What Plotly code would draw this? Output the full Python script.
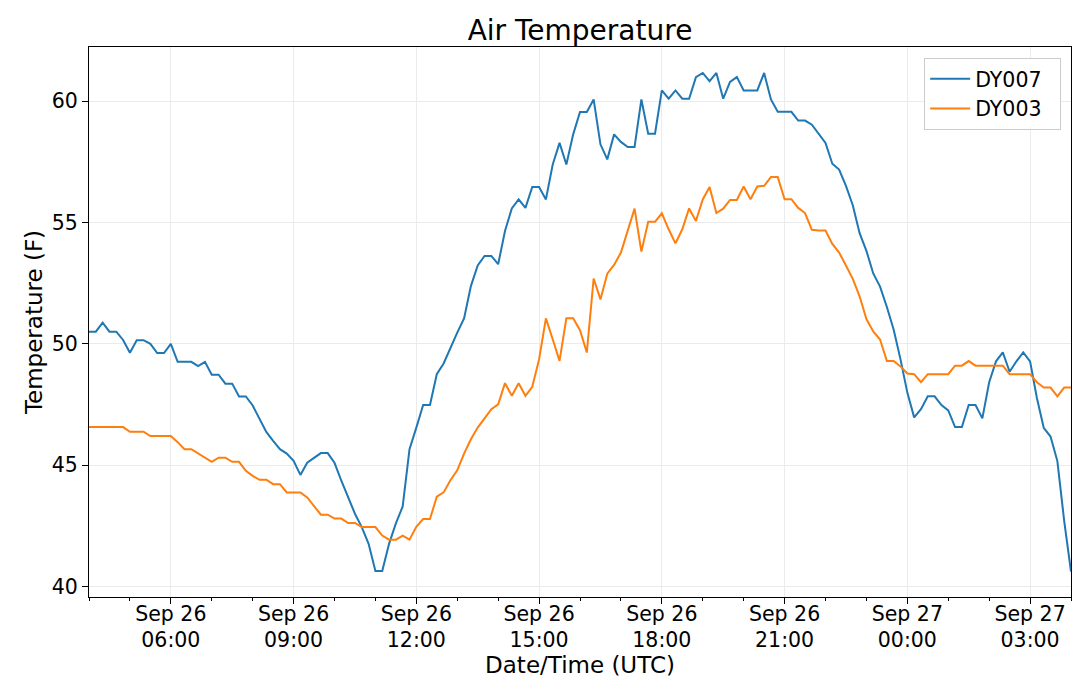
import pandas as pd
import plotly.graph_objects as go

# 10-minute samples from Sep 26 04:00 to Sep 27 04:00 (UTC)
start_time = "2019-09-26 04:00"
n_points = 145
times = pd.date_range(start_time, periods=n_points, freq="10min")

dy007 = [
    50.5, 50.5, 50.87, 50.5, 50.5, 50.16, 49.63, 50.15, 50.15, 50.0, 49.62, 49.62, 50.0,
    49.26, 49.26, 49.26, 49.08, 49.26, 48.73, 48.73, 48.36, 48.36, 47.83, 47.83, 47.46,
    46.93, 46.37, 46.0, 45.66, 45.48, 45.18, 44.6, 45.1, 45.3, 45.5, 45.5, 45.1,
    44.36, 43.67, 43.0, 42.45, 41.76, 40.64, 40.64, 41.76, 42.6, 43.3, 45.66, 46.55,
    47.48, 47.48, 48.75, 49.19, 49.85, 50.46, 51.05, 52.38, 53.23, 53.62, 53.62, 53.28,
    54.65, 55.58, 55.95, 55.6, 56.46, 56.46, 55.95, 57.39, 58.28, 57.39, 58.63, 59.55,
    59.55, 60.07, 58.22, 57.6, 58.63, 58.32, 58.11, 58.11, 60.07, 58.66, 58.66, 60.44,
    60.1, 60.44, 60.1, 60.1, 60.99, 61.16, 60.82, 61.16, 60.1, 60.79, 60.99, 60.44,
    60.44, 60.44, 61.16, 60.07, 59.56, 59.56, 59.56, 59.2, 59.2, 59.03, 58.67, 58.28,
    57.42, 57.18, 56.51, 55.71, 54.56, 53.83, 52.9, 52.36, 51.52, 50.58, 49.36, 47.99,
    46.97, 47.31, 47.84, 47.84, 47.48, 47.26, 46.57, 46.57, 47.48, 47.48, 46.93, 48.42,
    49.28, 49.65, 48.85, 49.28, 49.65, 49.28, 47.77, 46.54, 46.18, 45.17, 42.71, 40.62,
]

dy003 = [
    46.57, 46.57, 46.57, 46.57, 46.57, 46.57, 46.38, 46.38, 46.38, 46.2, 46.2, 46.2, 46.2,
    45.95, 45.66, 45.66, 45.48, 45.31, 45.14, 45.31, 45.31, 45.14, 45.14, 44.77, 44.56,
    44.4, 44.4, 44.22, 44.22, 43.88, 43.88, 43.88, 43.67, 43.33, 42.96, 42.96, 42.8,
    42.8, 42.62, 42.62, 42.45, 42.45, 42.45, 42.1, 41.93, 41.93, 42.1, 41.93, 42.46,
    42.78, 42.78, 43.7, 43.88, 44.38, 44.79, 45.48, 46.07, 46.55, 46.94, 47.31, 47.51,
    48.38, 47.86, 48.38, 47.86, 48.23, 49.36, 51.05, 50.19, 49.3, 51.05, 51.05, 50.56,
    49.64, 52.69, 51.83, 52.89, 53.25, 53.76, 54.65, 55.57, 53.8, 55.03, 55.03, 55.38,
    54.72, 54.14, 54.72, 55.58, 55.06, 55.95, 56.46, 55.39, 55.57, 55.93, 55.93, 56.48,
    55.96, 56.48, 56.51, 56.87, 56.87, 55.96, 55.96, 55.6, 55.39, 54.7, 54.67, 54.67,
    54.12, 53.76, 53.23, 52.68, 51.96, 51.02, 50.51, 50.18, 49.29, 49.29, 49.07, 48.78,
    48.75, 48.42, 48.75, 48.75, 48.75, 48.75, 49.1, 49.1, 49.29, 49.1, 49.1, 49.1,
    49.1, 49.1, 48.75, 48.75, 48.75, 48.75, 48.42, 48.2, 48.2, 47.84, 48.2, 48.2,
]

series_names = ["DY007", "DY003"]
series_colors = ["#1f77b4", "#ff7f0e"]
y_ticks = [40, 45, 50, 55, 60]

FONT = "DejaVu Sans"

# the page body has an 8px margin, so the figure is made 8px smaller
W, H = 1072, 683

fig = go.Figure()
for name, vals, col in zip(series_names, [dy007, dy003], series_colors):
    fig.add_trace(go.Scatter(x=times, y=vals, mode="lines", name=name + "\u00a0\u00a0",
                             line=dict(color=col, width=2)))

fig.update_layout(
    width=W, height=H,
    margin=dict(l=81, r=9, t=39, b=94, autoexpand=False),
    paper_bgcolor="white", plot_bgcolor="white",
    font=dict(family=FONT, color="black", size=20),
    title=dict(text="Air Temperature", x=(81 + (W - 81 - 9) / 2) / W, xanchor="center",
               y=1 - 22 / H, yref="container", yanchor="middle",
               font=dict(size=28, family=FONT, color="black")),
    legend=dict(x=0.99, y=0.98, xanchor="right", yanchor="top",
                bgcolor="white", bordercolor="#cccccc", borderwidth=1,
                font=dict(size=20.5, family=FONT), itemwidth=40),
    showlegend=True,
)

fig.update_xaxes(
    type="date", automargin=False,
    range=[times[0], times[-1]],
    tick0="2019-09-26 00:00", dtick=3 * 3600 * 1000,
    tickformat="%b %d<br>%H:%M",
    ticks="outside", ticklen=6, tickcolor="black", tickwidth=1,
    ticklabelstandoff=-8,
    showline=True, linecolor="black", linewidth=1, mirror=True,
    showgrid=True, gridcolor="#ebebeb", gridwidth=1,
    zeroline=False,
    tickfont=dict(size=20.5, family=FONT),
    minor=dict(dtick=3600 * 1000, tick0="2019-09-26 00:00", ticks="outside",
               ticklen=3, tickcolor="black", showgrid=False),
    title=dict(text="Date/Time (UTC)", font=dict(size=23, family=FONT), standoff=1),
)
fig.update_yaxes(
    automargin=False,
    range=[39.57, 62.23],
    tickvals=y_ticks,
    ticks="outside", ticklen=6, tickcolor="black", tickwidth=1,
    showline=True, linecolor="black", linewidth=1, mirror=True,
    showgrid=True, gridcolor="#ebebeb", gridwidth=1,
    zeroline=False,
    tickfont=dict(size=20.5, family=FONT),
    title=dict(text="Temperature (F)", font=dict(size=23, family=FONT), standoff=2),
)

fig.write_html("out.html")
